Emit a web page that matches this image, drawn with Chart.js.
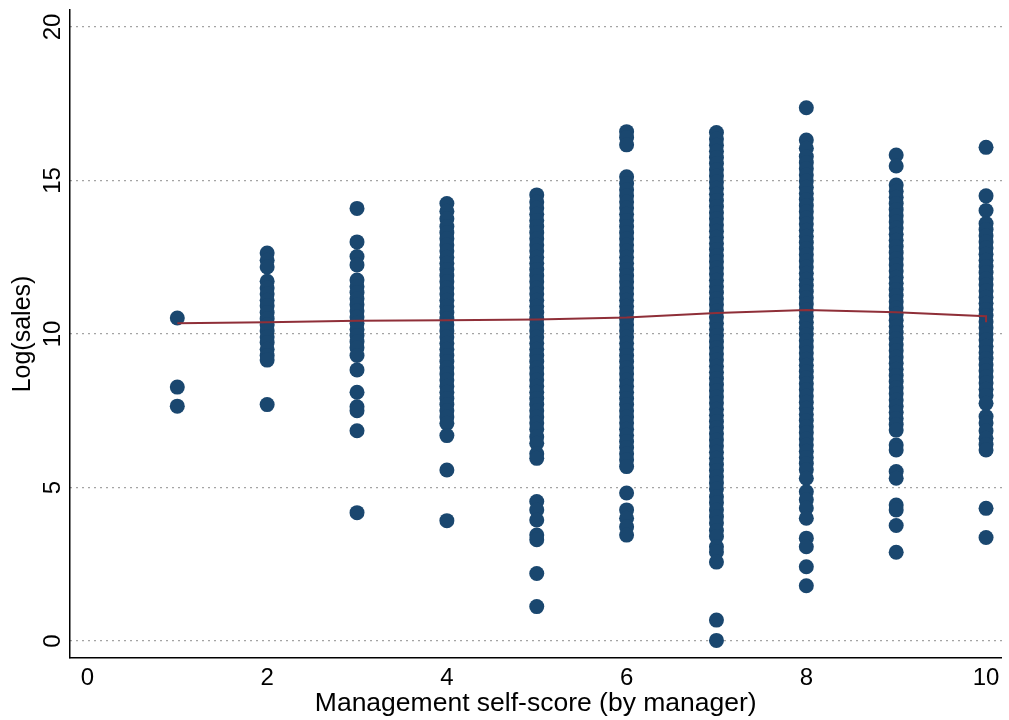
<!DOCTYPE html>
<html>
<head>
<meta charset="utf-8">
<script src="https://cdn.jsdelivr.net/npm/chart.js@4/dist/chart.umd.min.js"></script>
<style>
  html, body { margin: 0; padding: 0; background: #ffffff; }
  #wrap { width: 1009px; height: 720px; }
</style>
</head>
<body>
<div id="wrap"><canvas id="c" width="1009" height="720"></canvas></div>
<script>
// Management self-score categories (x axis)
const scores = [1, 2, 3, 4, 5, 6, 7, 8, 9, 10];

// Log(sales) observations for each self-score
const salesScore1 = [10.52, 8.27, 7.65];
const salesScore2 = [12.64, 12.4, 12.18, 11.72, 11.5, 11.3, 11.1, 10.92, 10.7, 10.5, 10.3, 10.1, 9.9, 9.72, 9.5, 9.3, 9.15, 7.7];
const salesScore3 = [14.09, 13.0, 12.52, 12.25, 11.76, 11.55, 11.35, 11.15, 10.95, 10.75, 10.55, 10.35, 10.15, 9.95, 9.75, 9.55, 9.3, 8.83, 8.1, 7.63, 7.5, 6.85, 4.18];
const salesScore4 = [14.25, 14.0, 13.75, 13.5, 13.3, 13.1, 12.9, 12.7, 12.5, 12.3, 12.1, 11.9, 11.7, 11.5, 11.3, 11.1, 10.9, 10.7, 10.5, 10.3, 10.1, 9.9, 9.7, 9.5, 9.3, 9.1, 8.9, 8.7, 8.5, 8.3, 8.1, 7.9, 7.7, 7.5, 7.3, 7.09, 6.69, 5.57, 3.92];
const salesScore5 = [14.53, 14.3, 14.1, 13.9, 13.7, 13.5, 13.3, 13.1, 12.9, 12.7, 12.5, 12.3, 12.1, 11.9, 11.7, 11.5, 11.3, 11.1, 10.9, 10.7, 10.5, 10.3, 10.1, 9.9, 9.7, 9.5, 9.3, 9.1, 8.9, 8.7, 8.5, 8.3, 8.1, 7.9, 7.7, 7.5, 7.3, 7.1, 6.9, 6.65, 6.44, 6.1, 5.95, 4.54, 4.27, 3.94, 3.45, 3.3, 2.2, 1.12];
const salesScore6 = [16.59, 16.4, 16.16, 15.12, 14.9, 14.7, 14.5, 14.3, 14.1, 13.9, 13.7, 13.5, 13.3, 13.1, 12.9, 12.7, 12.5, 12.3, 12.1, 11.9, 11.7, 11.5, 11.3, 11.1, 10.9, 10.7, 10.5, 10.3, 10.1, 9.9, 9.7, 9.5, 9.3, 9.1, 8.9, 8.7, 8.5, 8.3, 8.1, 7.9, 7.7, 7.5, 7.3, 7.1, 6.9, 6.7, 6.5, 6.3, 6.1, 5.9, 5.68, 4.82, 4.27, 4.0, 3.72, 3.45];
const salesScore7 = [16.56, 16.35, 16.15, 15.95, 15.75, 15.55, 15.35, 15.15, 14.95, 14.75, 14.55, 14.35, 14.15, 13.95, 13.75, 13.55, 13.35, 13.15, 12.95, 12.75, 12.55, 12.35, 12.15, 11.95, 11.75, 11.55, 11.35, 11.15, 10.95, 10.75, 10.55, 10.35, 10.15, 9.95, 9.75, 9.55, 9.35, 9.15, 8.95, 8.75, 8.55, 8.35, 8.15, 7.95, 7.75, 7.55, 7.35, 7.15, 6.95, 6.75, 6.55, 6.35, 6.15, 5.95, 5.75, 5.55, 5.35, 5.15, 4.95, 4.7, 4.5, 4.27, 4.05, 3.84, 3.6, 3.4, 3.07, 2.9, 2.57, 0.68, 0.02];
const salesScore8 = [17.37, 16.32, 16.05, 15.78, 15.58, 15.38, 15.18, 14.98, 14.78, 14.58, 14.38, 14.18, 13.98, 13.78, 13.58, 13.38, 13.18, 12.98, 12.78, 12.58, 12.38, 12.18, 11.98, 11.78, 11.58, 11.38, 11.18, 10.98, 10.78, 10.58, 10.38, 10.18, 9.98, 9.78, 9.58, 9.38, 9.18, 8.98, 8.78, 8.58, 8.38, 8.18, 7.98, 7.78, 7.58, 7.38, 7.18, 6.98, 6.78, 6.58, 6.38, 6.18, 5.98, 5.78, 5.58, 5.3, 4.86, 4.6, 4.33, 4.0, 3.35, 3.07, 2.42, 1.8];
const salesScore9 = [15.83, 15.47, 14.85, 14.65, 14.45, 14.25, 14.05, 13.85, 13.65, 13.45, 13.25, 13.05, 12.85, 12.65, 12.45, 12.25, 12.05, 11.85, 11.65, 11.45, 11.25, 11.05, 10.85, 10.65, 10.45, 10.25, 10.05, 9.85, 9.65, 9.45, 9.25, 9.05, 8.85, 8.65, 8.45, 8.25, 8.05, 7.85, 7.65, 7.45, 7.25, 7.05, 6.87, 6.38, 6.22, 5.52, 5.3, 4.43, 4.27, 3.76, 2.89];
const salesScore10 = [16.08, 14.5, 14.02, 13.6, 13.4, 13.2, 13.0, 12.8, 12.6, 12.4, 12.2, 12.0, 11.8, 11.6, 11.4, 11.2, 11.0, 10.8, 10.6, 10.4, 10.2, 10.0, 9.8, 9.6, 9.4, 9.2, 9.0, 8.8, 8.6, 8.4, 8.2, 8.0, 7.74, 7.31, 7.1, 6.85, 6.6, 6.4, 6.22, 4.32, 3.37];

// Lowess smoother of log(sales) on self-score
const lowessX = [1, 2, 3, 4, 5, 6, 7, 8, 9, 10, 10];
const lowessY = [10.35, 10.38, 10.43, 10.45, 10.47, 10.54, 10.68, 10.78, 10.71, 10.58, 10.38];

// Axis tick values
const xTicks = [0, 2, 4, 6, 8, 10];
const yTicks = [0, 5, 10, 15, 20];

const salesByScore = [salesScore1, salesScore2, salesScore3, salesScore4, salesScore5,
                      salesScore6, salesScore7, salesScore8, salesScore9, salesScore10];

const scatterPoints = [];
scores.forEach((s, i) => {
  salesByScore[i].forEach(v => scatterPoints.push({ x: s, y: v }));
});
const lowessPoints = lowessX.map((x, i) => ({ x: x, y: lowessY[i] }));

const FONT = "'Liberation Sans', Arial, Helvetica, sans-serif";

new Chart(document.getElementById('c'), {
  type: 'scatter',
  data: {
    datasets: [
      {
        label: 'Lowess',
        data: lowessPoints,
        showLine: true,
        borderColor: '#8f2f38',
        borderWidth: 2,
        pointRadius: 0,
        fill: false,
        tension: 0,
        order: 0
      },
      {
        label: 'Log(sales)',
        data: scatterPoints,
        backgroundColor: '#1a476f',
        borderWidth: 0,
        pointRadius: 7.5,
        pointHoverRadius: 7.5,
        order: 1
      }
    ]
  },
  options: {
    responsive: false,
    devicePixelRatio: 1,
    animation: false,
    layout: { padding: { top: 10, right: 3, left: 0, bottom: 0 } },
    plugins: {
      legend: { display: false },
      tooltip: { enabled: false }
    },
    scales: {
      x: {
        type: 'linear',
        min: -0.194,
        max: 10.172,
        afterBuildTicks: scale => { scale.ticks = xTicks.map(v => ({ value: v })); },
        afterFit: scale => {
          scale.height = 62;
          scale.paddingLeft = 0;
          scale.paddingRight = 0;
        },
        grid: { display: false, drawTicks: false },
        border: { display: true, color: '#000000', width: 1.5 },
        ticks: {
          color: '#000000',
          padding: 6,
          maxRotation: 0,
          font: { family: FONT, size: 24 }
        },
        title: {
          display: true,
          text: 'Management self-score (by manager)',
          color: '#000000',
          font: { family: FONT, size: 26.5 },
          padding: { top: 0, bottom: 0 }
        }
      },
      y: {
        type: 'linear',
        min: -0.554,
        max: 20.553,
        afterBuildTicks: scale => { scale.ticks = yTicks.map(v => ({ value: v })); },
        afterFit: scale => {
          scale.width = 70;
          scale.paddingTop = 0;
          scale.paddingBottom = 0;
        },
        grid: { display: true, drawTicks: false, color: '#4a4a4a', lineWidth: 1.2 },
        border: { display: true, color: '#000000', width: 1.5, dash: [1, 5] },
        ticks: {
          color: '#000000',
          padding: 3,
          minRotation: 90,
          maxRotation: 90,
          crossAlign: 'center',
          font: { family: FONT, size: 24 }
        },
        title: {
          display: true,
          text: 'Log(sales)',
          color: '#000000',
          font: { family: FONT, size: 25 },
          padding: { top: 8, bottom: 0 }
        }
      }
    }
  }
});
</script>
</body>
</html>
